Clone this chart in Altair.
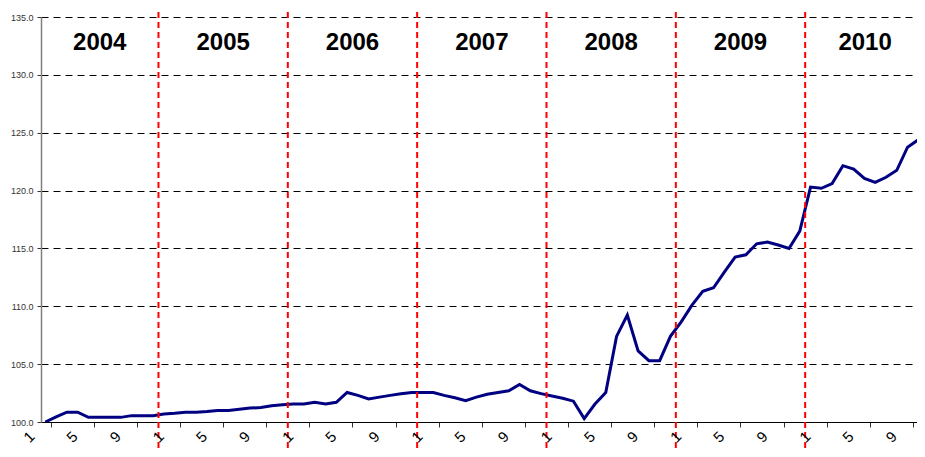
import altair as alt
import pandas as pd

# ---------------- data ----------------
years = ["2004", "2005", "2006", "2007", "2008", "2009", "2010"]
tick_label_months = [1, 5, 9]

# month index: Jan 2004 = 1 ... Dec 2010 = 84 (first visible point is Feb 2004)
months = list(range(2, 85))
values = [
    100.0, 100.45, 100.85, 100.85, 100.4, 100.4, 100.4, 100.4, 100.55, 100.55, 100.55,      # 2004 Feb-Dec
    100.7, 100.75, 100.85, 100.85, 100.9, 101.0, 101.0, 101.1, 101.2, 101.25, 101.4, 101.5,  # 2005
    101.55, 101.55, 101.7, 101.55, 101.7, 102.55, 102.3, 102.0, 102.15, 102.3, 102.45, 102.55,  # 2006
    102.55, 102.55, 102.3, 102.1, 101.85, 102.15, 102.4, 102.55, 102.7, 103.25, 102.7, 102.45,  # 2007
    102.25, 102.05, 101.8, 100.3, 101.55, 102.55, 107.4, 109.25, 106.15, 105.3, 105.3, 107.4,   # 2008
    108.65, 110.1, 111.3, 111.6, 112.95, 114.25, 114.45, 115.4, 115.55, 115.3, 115.0, 116.5,    # 2009
    120.3, 120.2, 120.6, 122.15, 121.85, 121.05, 120.7, 121.15, 121.75, 123.75, 124.4, 130.5,   # 2010
]

# ---------------- derived tables ----------------
PX_PER_MONTH = 10.778
PLOT_W = 876
X_MIN = 1.1
X_MAX = X_MIN + PLOT_W / PX_PER_MONTH
X_VIS_MAX = 83.12          # right edge of the original picture, used to centre the last year label
Y_MIN, Y_MAX = 100, 135

df_line = pd.DataFrame({"month": months, "value": values})
df_line["t"] = df_line["month"] - 0.5  # category centred between boundaries

df_rules = pd.DataFrame({"t": [12 * i for i in range(1, len(years))]})

centers = []
for i, _ in enumerate(years):
    lo = max(12 * i, X_MIN)
    hi = min(12 * (i + 1), X_VIS_MAX)
    centers.append((lo + hi) / 2)
df_years = pd.DataFrame({"year": years, "t": centers})

lab_rows = []
for i, _ in enumerate(years):
    for m in tick_label_months:
        lab_rows.append({"t": 12 * i + m - 1, "label": str(m)})
df_labels = pd.DataFrame(lab_rows)

FONT = "Liberation Sans"

x_scale = alt.Scale(domain=[X_MIN, X_MAX], nice=False, zero=False)
x_axis = alt.Axis(
    values=list(range(1, 84)),
    labels=False,
    title=None,
    grid=False,
    tickSize=5,
    tickColor="#333333",
    domainColor="#000000",
    domainWidth=1,
)
y_axis = alt.Axis(
    values=list(range(Y_MIN, Y_MAX + 1, 5)),
    format=".1f",
    title=None,
    labelFont=FONT,
    labelFontSize=9,
    labelColor="#333333",
    labelPadding=4,
    tickSize=4,
    tickColor="#333333",
    domainColor="#808080",
    domainWidth=1.5,
    grid=True,
    gridColor="#000000",
    gridDash=[7, 5],
    gridWidth=1,
)

line = alt.Chart(df_line).mark_line(color="#000080", strokeWidth=3, clip=True).encode(
    x=alt.X("t:Q", scale=x_scale, axis=x_axis),
    y=alt.Y("value:Q", scale=alt.Scale(domain=[Y_MIN, Y_MAX], nice=False, zero=False), axis=y_axis),
)

rules = alt.Chart(df_rules).mark_rule(color="#ff0000", strokeWidth=2, strokeDash=[6, 4]).encode(
    x=alt.X("t:Q", scale=x_scale),
    y=alt.value(-5),
    y2=alt.value(440),
)

year_text = alt.Chart(df_years).mark_text(
    font=FONT, fontSize=24, fontWeight="bold", color="#000000", baseline="middle", align="center"
).encode(
    x=alt.X("t:Q", scale=x_scale),
    y=alt.value(26),
    text="year:N",
)

x_labels = alt.Chart(df_labels).mark_text(
    font=FONT, fontSize=15, color="#000000", angle=315, align="center", baseline="middle"
).encode(
    x=alt.X("t:Q", scale=x_scale),
    y=alt.value(420),
    text="label:N",
)

chart = (
    alt.layer(line, rules, year_text, x_labels)
    .properties(
        width=PLOT_W,
        height=405,
        autosize=alt.AutoSizeParams(type="none"),
        padding={"left": 33, "top": 9, "right": 0, "bottom": 27},
        background="white",
    )
    .configure_view(stroke=None)
)

chart.save("out.html", embed_options={"renderer": "svg", "actions": False})
